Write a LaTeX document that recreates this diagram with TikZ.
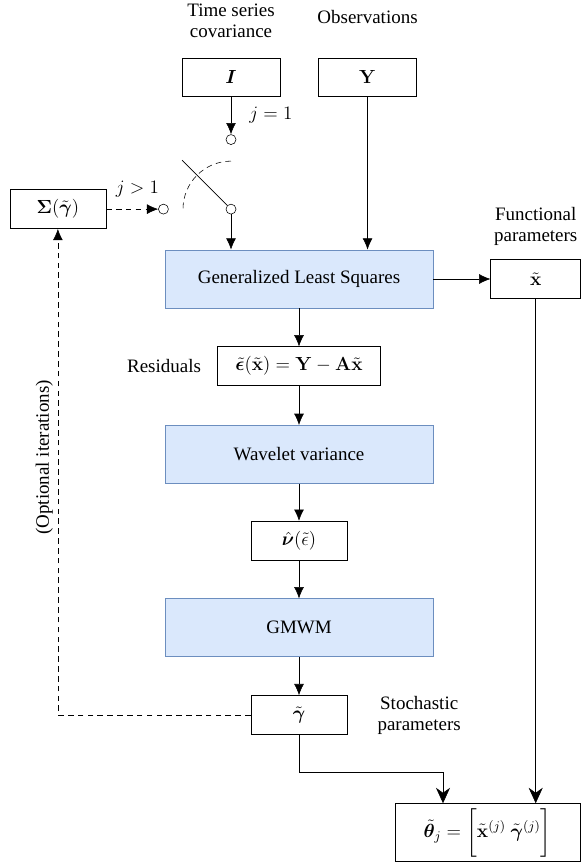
\RequirePackage{fix-cm}
\documentclass[tikz,border=0pt]{standalone}
\usepackage{amsmath}
\usepackage{bm}
\usepackage[no-math]{fontspec}
\setmainfont{Liberation Serif}
\usetikzlibrary{positioning,arrows.meta}
\definecolor{boxblue}{HTML}{DAE8FC}
\definecolor{edgeblue}{HTML}{6C8EBF}
\tikzset{
	-{Latex[length=8pt,width=7pt]}, line width=1pt, % every connector gets a filled tip unless told otherwise
	block/.style = {rectangle, draw=edgeblue, fill=boxblue, line width=0.6pt, minimum width=6.7cm, minimum height=1.45cm}, % the blue processing steps
	var/.style = {rectangle, draw, minimum width=2.4cm, minimum height=0.975cm},
	contact/.style = {circle, draw, fill=white, inner sep=0pt, minimum size=0.25cm}, % switch contacts
	note/.style = {inner sep=0pt, align=center},
	iterline/.style = {dash pattern=on 4pt off 3pt},
	bigtip/.style = {-{Stealth[length=11pt,width=10pt]}}
}

\begin{document}
\begin{tikzpicture}[font=\fontsize{13.5}{15}\selectfont]
	\useasboundingbox (0,0) rectangle (14.6,-21.625);
	\node[var, minimum width=2.45cm, minimum height=0.95cm] (cov) at (5.775,-1.925) {$\bm{I}$};
	\node[var, minimum width=2.45cm, minimum height=0.95cm] (obs) [right=0.95cm of cov] {$\mathbf{Y}$};
	\node[note] (covlbl) [above=0.5cm of cov] {Time series\\covariance};
	\node[note] (obslbl) [above=0.85cm of obs] {Observations};
	\node[contact] (c1) [below=0.95cm of cov] {};
	\node[contact] (piv) [below=1.475cm of c1] {};
	\node[contact] (c3) [left=1.425cm of piv] {};
	\node[var] (sig) [left=1.3cm of c3] {$\mathbf{\Sigma}(\tilde{\bm{\gamma}})$};
	\coordinate[above left=1.13cm and 1.13cm of piv] (lever);
	\node[block] (gls) at (7.475,-6.975) {Generalized Least Squares};
	\node[var, minimum width=2.25cm] (xt) [right=1.425cm of gls] {$\tilde{\mathbf{x}}$};
	\node[note] (xtlbl) [above=0.33cm of xt] {Functional\\parameters};
	\node[var, minimum width=4.075cm] (res) [below=0.95cm of gls] {$\tilde{\bm{\epsilon}}(\tilde{\mathbf{x}}) = \mathbf{Y} - \mathbf{A}\tilde{\mathbf{x}}$};
	\node[note] (reslbl) [left=0.4cm of res] {Residuals};
	\node[block] (wav) [below=0.975cm of res] {Wavelet variance};
	\node[var] (nu) [below=0.925cm of wav] {$\hat{\bm{\nu}}(\tilde{\epsilon})$};
	\node[block] (gmwm) [below=0.95cm of nu] {GMWM};
	\node[var] (gam) [below=0.95cm of gmwm] {$\tilde{\bm{\gamma}}$};
	\node[note] (gamlbl) [right=0.75cm of gam] {Stochastic\\parameters};
	\node[var, minimum width=4.625cm, minimum height=1.375cm] (theta) at (12.1875,-20.8125) {$\tilde{\bm{\theta}}_j = \biggl[\tilde{\mathbf{x}}^{(j)}\ \tilde{\bm{\gamma}}^{(j)}\biggr]$};
	% switch
	\draw (cov) -- node[right=0.45cm, inner sep=0pt] {$j=1$} (c1);
	\draw[-] (lever) -- (piv);
	\draw[-, iterline] ([yshift=1.2cm]piv.center) arc[start angle=90, end angle=180, radius=1.2cm];
	\draw[iterline] (sig) -- node[pos=0.6, above=0.3cm, inner sep=0pt] {$j>1$} (c3);
	\draw (piv) -- (piv |- gls.north);
	\draw (obs) -- (obs |- gls.north);
	% main chain
	\draw (gls) -- (xt);
	\draw (gls) -- (res);
	\draw (res) -- (wav);
	\draw (wav) -- (nu);
	\draw (nu) -- (gmwm);
	\draw (gmwm) -- (gam);
	\draw[iterline] (gam) -| node[pos=0.765, sloped, above] {(Optional iterations)} (sig);
	\draw[bigtip] (gam.south) -- ++(0,-0.9275) -| ([xshift=-1.1125cm]theta.north);
	\draw[bigtip] (xt) -- (xt |- theta.north);
\end{tikzpicture}
\end{document}
